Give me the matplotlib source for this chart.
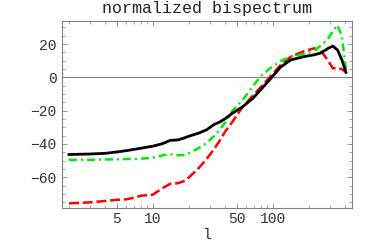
import numpy as np
from matplotlib import pyplot as plt
from matplotlib.ticker import FixedLocator, NullFormatter

# multipole l for black / red curves
l_main = [2, 3, 4, 5, 6, 7, 8, 10, 12, 14, 16, 18, 20, 24, 28, 32, 36, 40,
          46, 56, 68, 80, 95, 115, 140, 180, 220, 250, 285, 315, 345, 375, 405]
black = [-46.3, -46.0, -45.6, -44.8, -44.0, -43.2, -42.5, -41.3, -39.8, -37.8,
         -37.6, -36.5, -35.3, -33.5, -31.5, -28.5, -26.8, -24.8, -21.5, -17.6,
         -12.6, -7.0, -1.0, 6.0, 10.4, 12.4, 13.5, 14.6, 17.2, 18.8, 16.4,
         10.4, 3.0]
red = [-75.6, -75.0, -74.2, -73.5, -73.2, -72.2, -71.0, -70.4, -66.5, -63.8,
       -63.6, -62.4, -60.0, -54.5, -49.0, -43.5, -38.0, -32.5, -26.6, -17.6,
       -11.0, -5.5, 0.5, 7.2, 12.3, 15.6, 17.4, 16.0, 10.5, 5.4, 5.6, 4.8, 3.2]

l_green = [2, 3, 4, 5, 6, 7, 8, 10, 12, 14, 16, 18, 20, 24, 28, 32, 36, 40,
           46, 56, 68, 80, 95, 115, 140, 180, 220, 250, 285, 315, 340, 360,
           375, 390, 405]
green = [-49.5, -49.5, -49.3, -49.2, -49.0, -49.0, -48.8, -48.3, -46.8, -46.2,
         -46.8, -46.6, -45.5, -42.5, -39.5, -35.5, -31.6, -27.0, -20.0, -13.6,
         -5.3, 1.0, 5.6, 9.6, 12.4, 14.0, 16.0, 19.0, 22.8, 27.5, 31.4, 28.0,
         24.4, 14.4, 4.4]

x_major = [5, 10, 50, 100]
x_minor = [2, 3, 4, 6, 7, 8, 9, 20, 30, 40, 60, 70, 80, 90, 200, 300, 400]
y_major = [-60, -40, -20, 0, 20]

plt.rcParams['font.family'] = ['Liberation Mono', 'DejaVu Sans']

fig = plt.figure(figsize=(3.82, 2.46), dpi=100)
ax = fig.add_axes([0.1623, 0.1545, 0.7592, 0.7601])

ax.axhline(0, color='#808080', lw=0.8, zorder=1)
ax.plot(l_main, red, color='#ff0000', lw=1.8, dashes=(4, 1.5), zorder=2)
ax.plot(l_green, green, color='#00ee00', lw=1.8,
        dashes=(3.2, 1.6, 0.8, 1.6), zorder=3)
ax.plot(l_main, black, color='black', lw=2.0, zorder=4)

ax.set_xscale('log')
ax.set_xlim(1.75, 455)
ax.set_ylim(-78.4, 33.8)

ax.xaxis.set_major_locator(FixedLocator(x_major))
ax.xaxis.set_minor_locator(FixedLocator(x_minor))
ax.xaxis.set_minor_formatter(NullFormatter())
ax.set_xticklabels([str(v) for v in x_major])
ax.yaxis.set_major_locator(FixedLocator(y_major))
ax.yaxis.set_minor_locator(FixedLocator(list(range(-75, 35, 5))))
ax.set_yticklabels(['\u221260', '\u221240', '\u221220', '0', '20'])

ax.tick_params(which='both', direction='in', top=True, right=True,
               color='#808080', labelcolor='#333333', labelsize=10.5)
ax.tick_params(which='major', length=3.5, width=0.6)
ax.tick_params(which='minor', length=2, width=0.5)
ax.tick_params(axis='x', pad=3)
ax.tick_params(axis='y', pad=4)
for s in ax.spines.values():
    s.set_color('#808080')
    s.set_linewidth(0.8)

ax.set_title('normalized bispectrum', fontsize=12, color='#222222')
ax.set_xlabel('l', fontsize=11, color='#333333', labelpad=1)

fig.savefig('out.png', dpi=100)
